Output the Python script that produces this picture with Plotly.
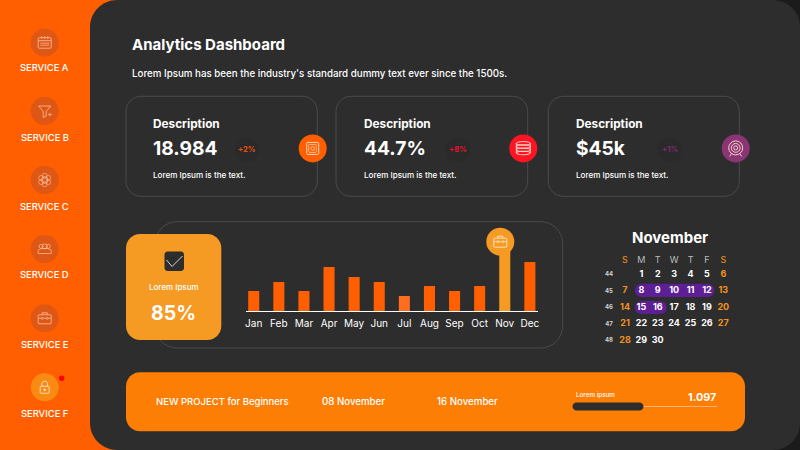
import plotly.graph_objects as go

# ---- data ----
months = ["Jan","Feb","Mar","Apr","May","Jun","Jul","Aug","Sep","Oct","Nov","Dec"]
bar_values = [20,29,20,44,34,29,15,25,20,25,70,49]
bar_colors = ["#FF5F00"]*6 + ["#FF6D1F"] + ["#FF5F00"]*3 + ["#F59A23","#FF5F00"]
services = ["SERVICE A","SERVICE B","SERVICE C","SERVICE D","SERVICE E","SERVICE F"]
kpi_titles = ["Description","Description","Description"]
kpi_values = ["18.984","44.7%","$45k"]
kpi_deltas = ["+2%","+8%","+1%"]
kpi_note = "Lorem Ipsum is the text."
week_days = ["S","M","T","W","T","F","S"]
week_numbers = [44,45,46,47,48]
first_column = 1   # Nov 1 falls in the Monday column
days_in_month = 30
title = "Analytics Dashboard"
subtitle = "Lorem Ipsum has been the industry's standard dummy text ever since the 1500s."
gauge_label = "Lorem Ipsum"
gauge_value = "85%"
project = ["NEW PROJECT for Beginners","08 November","16 November"]
progress_label = "Lorem ipsum"
progress_value = "1.097"

# ---- style ----
FONT = "Inter"
ORANGE = "#FF5F00"; DARK = "#2D2D2D"; AMBER = "#F59A23"; BORDER = "#4A4A4A"
W, H = 800, 450
X = lambda x: x / W
Y = lambda y: 1 - y / H
shapes, notes = [], []

def rrect(x0, y0, x1, y1, r, fill=None, line=None, lw=1, layer="below"):
    k = r * 0.45
    p = (f"M{X(x0+r)},{Y(y0)} L{X(x1-r)},{Y(y0)} "
         f"C{X(x1-k)},{Y(y0)} {X(x1)},{Y(y0+k)} {X(x1)},{Y(y0+r)} "
         f"L{X(x1)},{Y(y1-r)} C{X(x1)},{Y(y1-k)} {X(x1-k)},{Y(y1)} {X(x1-r)},{Y(y1)} "
         f"L{X(x0+r)},{Y(y1)} C{X(x0+k)},{Y(y1)} {X(x0)},{Y(y1-k)} {X(x0)},{Y(y1-r)} "
         f"L{X(x0)},{Y(y0+r)} C{X(x0)},{Y(y0+k)} {X(x0+k)},{Y(y0)} {X(x0+r)},{Y(y0)} Z")
    shapes.append(dict(type="path", xref="paper", yref="paper", path=p, layer=layer,
                       fillcolor=fill or "rgba(0,0,0,0)",
                       line=dict(color=line or "rgba(0,0,0,0)", width=lw if line else 0)))

def circ(cx, cy, r, fill=None, line=None, lw=1, layer="above"):
    shapes.append(dict(type="circle", xref="paper", yref="paper", layer=layer,
                       x0=X(cx-r), x1=X(cx+r), y0=Y(cy+r), y1=Y(cy-r),
                       fillcolor=fill or "rgba(0,0,0,0)",
                       line=dict(color=line or "rgba(0,0,0,0)", width=lw if line else 0)))

def seg(pts, color="#FFFFFF", lw=0.8, close=False, fill=None):
    p = "M" + " L".join(f"{X(a)},{Y(b)}" for a, b in pts) + (" Z" if close else "")
    shapes.append(dict(type="path", xref="paper", yref="paper", path=p, layer="above",
                       fillcolor=fill or "rgba(0,0,0,0)", line=dict(color=color, width=lw)))

def txt(s, x, y, size, color="#FFFFFF", bold=False, anchor="left", weight=500):
    notes.append(dict(text=s, x=X(x), y=Y(y), xref="paper", yref="paper",
                      xanchor=anchor, yanchor="middle", showarrow=False, borderpad=0, borderwidth=0,
                      font=dict(family=FONT, size=size, color=color, weight=700 if bold else weight)))

# ---- icons (decorative glyphs) ----
def ic_calendar(c, d, col="#F7C4A6"):
    rrect(c-6.5, d-5, c+6.5, d+5.5, 1, None, col, .8, "above")
    seg([(c-6.5, d-2), (c+6.5, d-2)], col)
    for dy in (0.5, 2.5):
        seg([(c-4.5, d+dy), (c+4.5, d+dy)], col, .7)
    for dx in (-3, 0, 3):
        seg([(c+dx, d-6.5), (c+dx, d-4)], col, .7)

def ic_funnel(c, d, col="#F7C4A6"):
    seg([(c-6, d-5), (c+6, d-5), (c+1.5, d+.5), (c+1.5, d+5), (c-1.5, d+6.5), (c-1.5, d+.5)], col, .8, True)
    seg([(c+3.5, d+3.5), (c+7, d+3.5)], col, .7)
    seg([(c+5.2, d+1.8), (c+5.2, d+5.2)], col, .7)

def ic_flower(c, d, col="#F7C4A6"):
    circ(c, d, 3.2, None, col, .8)
    for sx, sy in ((-5, -3), (5, -3), (-5, 3), (5, 3), (0, -6), (0, 6)):
        circ(c+sx*.72, d+sy*.72, 2.4, None, col, .6)

def ic_people(c, d, col="#F7C4A6"):
    for dx, r in ((-3.6, 2), (3.6, 2), (0, 2.5)):
        circ(c+dx, d-2.6, r, None, col, .7)
    seg([(c-6.5, d+4.5), (c-6.5, d+1), (c-3, d-.5), (c+3, d-.5), (c+6.5, d+1), (c+6.5, d+4.5), (c-6.5, d+4.5)], col, .7)

def ic_case(c, d, col="#F7C4A6"):
    rrect(c-6.5, d-3.5, c+6.5, d+5.5, .8, None, col, .8, "above")
    seg([(c-2.5, d-3.5), (c-2.5, d-5.5), (c+2.5, d-5.5), (c+2.5, d-3.5)], col, .8)
    seg([(c-6.5, d), (c-3.5, d)], col, .7)
    seg([(c-1.5, d), (c+1.5, d)], col, .7)
    seg([(c+3.5, d), (c+6.5, d)], col, .7)
    circ(c-2.5, d, 1, None, col, .7)
    circ(c+2.5, d, 1, None, col, .7)

def ic_lock(c, d, col="#FFE3CF"):
    rrect(c-4.5, d-1, c+4.5, d+6, .8, None, col, .9, "above")
    seg([(c-2.8, d-1), (c-2.8, d-4), (c-1.5, d-6), (c+1.5, d-6), (c+2.8, d-4), (c+2.8, d-1)], col, .9)
    circ(c, d+2.5, 1, col, col, .5)

def ic_safe(c, d, col="#FFE3CF"):
    rrect(c-6, d-6, c+6, d+6, 1, None, col, .9, "above")
    rrect(c-4, d-4, c+3.6, d+4, .8, None, col, .7, "above")
    circ(c, d, 1.8, None, col, .7)

def ic_db(c, d, col="#FFE3CF"):
    for dy in (-5, -1.8, 1.4, 4.6):
        shapes.append(dict(type="circle", xref="paper", yref="paper", layer="above",
                           x0=X(c-7), x1=X(c+7), y0=Y(d+dy+1.8), y1=Y(d+dy-1.8),
                           fillcolor="rgba(0,0,0,0)", line=dict(color=col, width=.9)))
    seg([(c-7, d-5), (c-7, d+4.6)], col, .9)
    seg([(c+7, d-5), (c+7, d+4.6)], col, .9)

def ic_target(c, d, col="#FFE3CF"):
    for r in (7, 4.4, 2):
        circ(c, d-.5, r, None, col, .9)
    seg([(c-4, d+5), (c-6, d+8)], col, .9)
    seg([(c+4, d+5), (c+6, d+8)], col, .9)

# ---- backdrop ----
shapes.append(dict(type="rect", xref="paper", yref="paper", layer="below", x0=X(770), x1=1, y0=0, y1=1,
                   fillcolor="#1B1B1B", line=dict(width=0)))
rrect(90, 0, 800, 450, 27, DARK)

# ---- sidebar ----
cy = [42.7, 111, 180, 249, 318.3, 387.3]
ly = [68, 137, 206, 274.7, 344, 413.5]
icons = [ic_calendar, ic_funnel, ic_flower, ic_people, ic_case, ic_lock]
for i, s in enumerate(services):
    circ(44.7, cy[i], 14, "#F98A12" if i == 5 else "#DF5714", layer="below")
    icons[i](44.7, cy[i])
    txt(s, 44.7, ly[i], 9.4, anchor="center")
circ(61.7, 378.3, 2.7, "#FF0000")

# ---- header ----
txt(title, 132, 45, 15, bold=True)
txt(subtitle, 132, 73, 9.75)

# ---- KPI cards ----
cards = [(126, 317.3), (336, 527.7), (548.3, 739.3)]
text_x = [153, 364, 576]
delta_x = [247, 458, 670]
icon_x = [312.7, 523.3, 735.7]
icon_col = ["#FF5F00", "#FF1423", "#8C3575"]
delta_col = ["#E8500F", "#E8112D", "#7A2E6E"]
for i, (a, b) in enumerate(cards):
    rrect(a, 96.3, b, 196.3, 15, None, BORDER, 1)
    circ(delta_x[i], 150, 12, "#2A2A2A", layer="below")
    circ(icon_x[i], 148.4, 14, icon_col[i])
    [ic_safe, ic_db, ic_target][i](icon_x[i], 148.4)
    txt(kpi_titles[i], text_x[i], 123.5, 11.8, bold=True)
    txt(kpi_values[i], text_x[i], 148.3, 19.2, bold=True)
    txt(kpi_deltas[i], delta_x[i], 150, 7.6, delta_col[i], bold=True, anchor="center")
    txt(kpi_note, text_x[i], 175, 8.1)

# ---- chart frame and gauge card ----
rrect(155, 221.7, 562.7, 348, 22, None, BORDER, 1)
rrect(126, 234, 221.3, 340, 14, AMBER)
rrect(164.5, 251.5, 184, 271, 3, DARK, layer="above")
seg([(166.5, 260), (172, 266.5), (182.5, 256)], "#E8E8E8", .9)
txt(gauge_label, 173.7, 286.5, 8, anchor="center")
txt(gauge_value, 173.5, 313, 19.5, bold=True, anchor="center")
circ(500.3, 241.7, 14, AMBER)
ic_case(500.3, 241.7, "#FFF1E0")

# ---- calendar ----
txt("November", 670.3, 237.7, 15, bold=True, anchor="center")
rrect(635, 283.7, 714.3, 297, 6.6, "#5E1F96")
rrect(635, 301, 666.7, 314, 6.5, "#5E1F96")

HEADER_ROW = -0.87
cal_x, cal_y, cal_text, cal_col = [], [], [], []
for c, d in enumerate(week_days):
    cal_x.append(c); cal_y.append(HEADER_ROW); cal_text.append(d)
    cal_col.append("#F5921E" if c in (0, 6) else "#BDBDBD")
for n in range(1, days_in_month + 1):
    pos = n - 1 + first_column
    c, r = pos % 7, pos // 7
    cal_x.append(c); cal_y.append(r); cal_text.append(f"<b>{n}</b>")
    cal_col.append("#F5921E" if c in (0, 6) else "#FFFFFF")

# ---- bottom bar ----
rrect(126, 372.3, 745, 431.3, 14, "#FC7E05")
txt(project[0], 155.7, 401.5, 9.5)
txt(project[1], 322, 401.5, 9.7)
txt(project[2], 437, 401.5, 9.7)
txt(progress_label, 576, 395, 6.3)
txt(progress_value, 715.5, 397, 10.8, bold=True, anchor="right")
seg([(640, 406.5), (717, 406.5)], "#FDB27A", 1)
rrect(572.5, 402.5, 643.5, 410.5, 4, DARK, layer="above")

# ---- traces ----
fig = go.Figure()
fig.add_bar(x=months, y=bar_values, marker=dict(color=bar_colors, line_width=0), width=0.44,
            xaxis="x", yaxis="y", showlegend=False, hoverinfo="x+y")
fig.add_scatter(x=cal_x, y=cal_y, text=cal_text, mode="text", xaxis="x2", yaxis="y2",
                textfont=dict(family=FONT, size=9, color=cal_col), textposition="middle center",
                showlegend=False, hoverinfo="skip")
fig.add_scatter(x=[0]*len(week_numbers), y=list(range(len(week_numbers))),
                text=[f"<b>{w}</b>" for w in week_numbers], mode="text", xaxis="x3", yaxis="y2",
                textfont=dict(family=FONT, size=6, color="#D0D0D0"), textposition="middle center",
                showlegend=False, hoverinfo="skip")

# pixel spans of each plot area
bx0, bx1, by0, by1 = 245.7, 537.9, 230, 311
cx0, cx1 = 616.8, 731.5
cy0, cy1 = 252.4, 348.9

fig.update_layout(
    width=W, height=H, margin=dict(l=0, r=0, t=0, b=0, autoexpand=False), autosize=False,
    paper_bgcolor=ORANGE, plot_bgcolor="rgba(0,0,0,0)",
    font=dict(family=FONT, color="#FFFFFF"), shapes=shapes, annotations=notes, bargap=0.5,
    xaxis=dict(domain=[X(bx0), X(bx1)], range=[-0.32, 11.32], type="category", categoryorder="array",
               categoryarray=months, showline=True, linecolor="#FFFFFF", linewidth=1, showgrid=False,
               zeroline=False, ticks="", tickfont=dict(family=FONT, size=10, color="#FFFFFF"),
               ticklabelstandoff=3, fixedrange=True),
    yaxis=dict(domain=[Y(by1), Y(by0)], range=[0, 81], visible=False, fixedrange=True),
    xaxis2=dict(domain=[X(cx0), X(cx1)], range=[-0.5, 6.5], visible=False, anchor="y2", fixedrange=True),
    yaxis2=dict(domain=[Y(cy1), Y(cy0)], range=[4.5, -1.35], visible=False, anchor="x2", fixedrange=True),
    xaxis3=dict(domain=[X(600), X(618)], range=[-0.5, 0.5], visible=False, anchor="y2", fixedrange=True),
)
fig.write_html("out.html", config=dict(displayModeBar=False),
               post_script="document.documentElement.style.overflow='hidden';document.body.style.margin='0';document.body.style.padding='0';")
